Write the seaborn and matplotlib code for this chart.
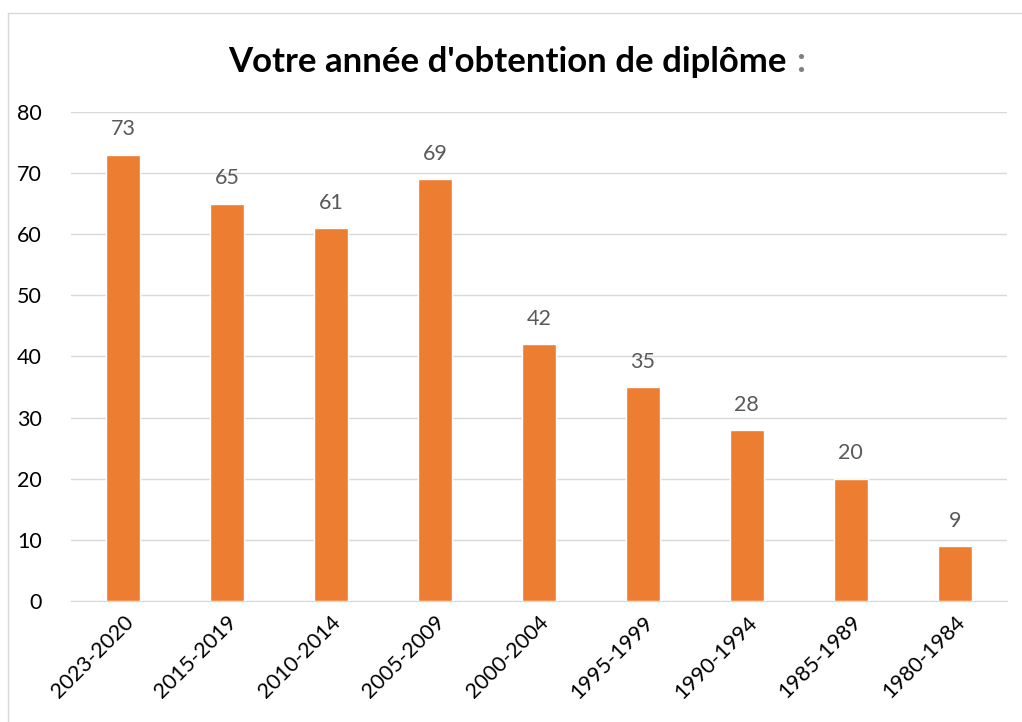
import pandas as pd
import seaborn as sns
import matplotlib.pyplot as plt
from matplotlib.lines import Line2D

# Data
periods = ['2023-2020', '2015-2019', '2010-2014', '2005-2009', '2000-2004',
           '1995-1999', '1990-1994', '1985-1989', '1980-1984']
counts = [73, 65, 61, 69, 42, 35, 28, 20, 9]

df = pd.DataFrame({'Période': periods, 'Nombre': counts})

sns.set_style('white')
plt.rcParams['font.family'] = ['Lato', 'DejaVu Sans']

fig = plt.figure(figsize=(10.22, 7.22), dpi=100)
ax = fig.add_axes([0.0695, 0.1676, 0.9155, 0.6773])

sns.barplot(data=df, x='Période', y='Nombre', color='#ED7D31', width=0.33,
            saturation=1, ax=ax)

ax.set_ylim(0, 80)
ax.set_xlim(-0.5, len(periods) - 0.5)
ax.set_yticks(range(0, 81, 10))
ax.grid(axis='y', color='#D9D9D9', linewidth=1)
ax.set_axisbelow(True)
for s in ['top', 'right', 'left']:
    ax.spines[s].set_visible(False)
ax.spines['bottom'].set_color('#D9D9D9')
ax.tick_params(length=0)
ax.tick_params(axis='y', labelsize=15.5, pad=21, labelcolor='black')
ax.tick_params(axis='x', labelsize=15.5, pad=8, labelcolor='black')
ax.set_xlabel('')
ax.set_ylabel('')
for lab in ax.get_xticklabels():
    lab.set_rotation(45)
    lab.set_ha('right')
    lab.set_rotation_mode('anchor')

ax.bar_label(ax.containers[0], padding=11, fontsize=15.5, color='#595959')

# Title, colon in grey
t = fig.text(0.497, 0.914, "Votre année d'obtention de diplôme", ha='center', va='center',
             fontsize=25, fontweight='bold', color='black')
fig.canvas.draw()
bb = t.get_window_extent()
fig.text((bb.x1 + 9) / fig.bbox.width, 0.914, ':', ha='left', va='center',
         fontsize=25, fontweight='bold', color='#7F7F7F')

# Chart frame (top and left edges visible)
fig.add_artist(Line2D([0.008, 1.0], [0.982, 0.982], color='#D9D9D9', lw=1))
fig.add_artist(Line2D([0.008, 0.008], [0.0, 0.982], color='#D9D9D9', lw=1))

fig.savefig('out.png', dpi=100)
